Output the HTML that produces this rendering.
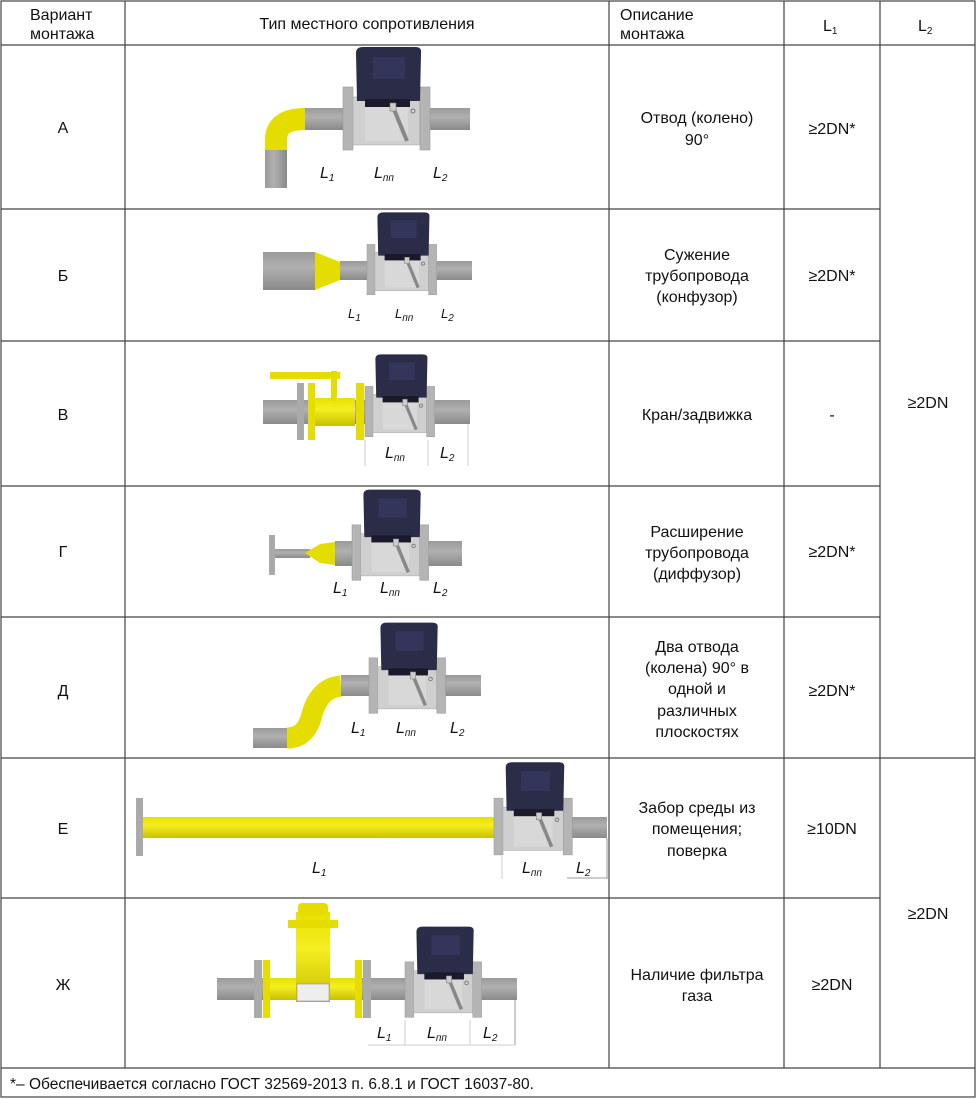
<!DOCTYPE html>
<html><head><meta charset="utf-8"><style>
body{margin:0;background:#fff;}
svg{display:block;font-family:"Liberation Sans",sans-serif;}
.t{font-size:16px;fill:#111;}
.d{font-size:16px;fill:#111;font-style:italic;}
.s{font-size:10px;}
</style></head><body>
<svg width="977" height="1099" viewBox="0 0 977 1099" xmlns="http://www.w3.org/2000/svg">
<defs>
<linearGradient id="gp" x1="0" y1="0" x2="0" y2="1"><stop offset="0" stop-color="#9a9a9a"/><stop offset=".4" stop-color="#b0b0b0"/><stop offset="1" stop-color="#8a8a8a"/></linearGradient>
<linearGradient id="gv" x1="0" y1="0" x2="1" y2="0"><stop offset="0" stop-color="#9a9a9a"/><stop offset=".4" stop-color="#b0b0b0"/><stop offset="1" stop-color="#8a8a8a"/></linearGradient>
<linearGradient id="yp" x1="0" y1="0" x2="0" y2="1"><stop offset="0" stop-color="#e8e000"/><stop offset=".4" stop-color="#f5ee20"/><stop offset="1" stop-color="#c8c000"/></linearGradient>
<g id="m">
<rect x="0" y="-32" width="10" height="63" fill="#b4b4b4" stroke="#999" stroke-width=".6"/>
<rect x="10" y="-22" width="67" height="48" fill="#cfcfcf" stroke="#aaa" stroke-width=".6"/>
<rect x="22" y="-12" width="43" height="34" fill="#d8d8d8"/>
<rect x="77" y="-32" width="10" height="63" fill="#b4b4b4" stroke="#999" stroke-width=".6"/>
<path d="M14 -18 L13 -66 Q13 -72 20 -72 L72 -72 Q79 -72 78 -66 L77 -18 Z" fill="#2a2c48"/>
<rect x="22" y="-20" width="45" height="8" fill="#1a1a2a"/>
<rect x="30" y="-62" width="32" height="22" fill="#33365a"/>
<line x1="50" y1="-12" x2="64" y2="22" stroke="#888" stroke-width="4"/>
<rect x="47" y="-16" width="6" height="8" fill="#ccc" stroke="#777" stroke-width=".6"/>
<circle cx="70" cy="-8" r="2" fill="none" stroke="#777"/>
</g>
</defs>
<g fill="none" stroke="#444" stroke-width="1.2">
<rect x="1" y="1" width="974" height="1096"/>
<line x1="125" y1="1" x2="125" y2="1068"/>
<line x1="609" y1="1" x2="609" y2="1068"/>
<line x1="784" y1="1" x2="784" y2="1068"/>
<line x1="880" y1="1" x2="880" y2="1068"/>
<line x1="1" y1="45" x2="975" y2="45"/>
<line x1="1" y1="209" x2="880" y2="209"/>
<line x1="1" y1="341" x2="880" y2="341"/>
<line x1="1" y1="486" x2="880" y2="486"/>
<line x1="1" y1="617" x2="880" y2="617"/>
<line x1="1" y1="758" x2="975" y2="758"/>
<line x1="1" y1="898" x2="880" y2="898"/>
<line x1="1" y1="1068" x2="975" y2="1068"/>
</g>
<text class="t" x="30" y="20">Вариант</text><text class="t" x="30" y="39">монтажа</text>
<text class="t" x="367" y="29" text-anchor="middle">Тип местного сопротивления</text>
<text class="t" x="620" y="20">Описание</text><text class="t" x="620" y="39">монтажа</text>
<text class="t" x="823" y="31">L<tspan class="s" dy="3">1</tspan></text>
<text class="t" x="918" y="31">L<tspan class="s" dy="3">2</tspan></text>
<g class="t" text-anchor="middle">
<text x="63" y="133">А</text><text x="63" y="281">Б</text><text x="63" y="420">В</text>
<text x="63" y="557">Г</text><text x="63" y="696">Д</text><text x="63" y="834">Е</text><text x="63" y="990">Ж</text>
<text x="697" y="123">Отвод (колено)</text><text x="697" y="145">90°</text>
<text x="697" y="260">Сужение</text><text x="697" y="281">трубопровода</text><text x="697" y="302">(конфузор)</text>
<text x="697" y="420">Кран/задвижка</text>
<text x="697" y="537">Расширение</text><text x="697" y="558">трубопровода</text><text x="697" y="579">(диффузор)</text>
<text x="697" y="652">Два отвода</text><text x="697" y="673">(колена) 90° в</text><text x="697" y="694">одной и</text><text x="697" y="716">различных</text><text x="697" y="737">плоскостях</text>
<text x="697" y="813">Забор среды из</text><text x="697" y="834">помещения;</text><text x="697" y="856">поверка</text>
<text x="697" y="980">Наличие фильтра</text><text x="697" y="1001">газа</text>
<text x="832" y="134">≥2DN*</text><text x="832" y="281">≥2DN*</text><text x="832" y="420">-</text>
<text x="832" y="557">≥2DN*</text><text x="832" y="696">≥2DN*</text><text x="832" y="834">≥10DN</text><text x="832" y="990">≥2DN</text>
<text x="928" y="408">≥2DN</text><text x="928" y="919">≥2DN</text>
</g>
<text class="t" x="10" y="1089" style="font-size:15.5px">*– Обеспечивается согласно ГОСТ 32569-2013 п. 6.8.1 и ГОСТ 16037-80.</text>

<!-- Row A -->
<path d="M276 152 L276 140 Q276 119 305 119" stroke="#e6dd00" stroke-width="22" fill="none"/>
<rect x="265" y="150" width="22" height="38" fill="url(#gv)"/>
<rect x="305" y="108" width="165" height="22" fill="url(#gp)"/>
<use href="#m" transform="translate(343 119)"/>
<text class="d" x="320" y="178">L<tspan class="s" dy="3">1</tspan></text>
<text class="d" x="374" y="178">L<tspan class="s" dy="3">пп</tspan></text>
<text class="d" x="433" y="178">L<tspan class="s" dy="3">2</tspan></text>

<!-- Row Б -->
<rect x="263" y="252" width="52" height="38" fill="url(#gp)"/>
<path d="M315 252 L340 262 L340 280 L315 290 Z" fill="#e6dd00"/>
<rect x="340" y="261" width="132" height="19" fill="url(#gp)"/>
<use href="#m" transform="translate(367 270) scale(.8)"/>
<text class="d" x="348" y="318" style="font-size:13px">L<tspan class="s" dy="3">1</tspan></text>
<text class="d" x="395" y="318" style="font-size:13px">L<tspan class="s" dy="3">пп</tspan></text>
<text class="d" x="441" y="318" style="font-size:13px">L<tspan class="s" dy="3">2</tspan></text>

<!-- Row В -->
<rect x="263" y="400" width="207" height="24" fill="url(#gp)"/>
<rect x="297" y="383" width="7" height="57" fill="#aaa"/>
<rect x="308" y="383" width="7" height="57" fill="#e6dd00"/>
<rect x="315" y="398" width="40" height="28" fill="url(#yp)"/>
<rect x="356" y="383" width="8" height="57" fill="#e6dd00"/>
<rect x="270" y="372" width="70" height="7" fill="#e6dd00"/>
<rect x="331" y="371" width="6" height="30" fill="#e6dd00"/>
<use href="#m" transform="translate(365 412) scale(.8)"/>
<line x1="365" y1="440" x2="365" y2="466" stroke="#ccc"/><line x1="428" y1="440" x2="428" y2="466" stroke="#ccc"/><line x1="468" y1="424" x2="468" y2="466" stroke="#ccc"/>
<text class="d" x="385" y="458">L<tspan class="s" dy="3">пп</tspan></text>
<text class="d" x="440" y="458">L<tspan class="s" dy="3">2</tspan></text>

<!-- Row Г -->
<rect x="269" y="535" width="6" height="40" fill="#aaa"/>
<rect x="275" y="549" width="35" height="9" fill="url(#gp)"/>
<path d="M305 553 L320 544 L335 542 L335 565 L320 563 Z" fill="#e6dd00"/>
<rect x="335" y="541" width="127" height="25" fill="url(#gp)"/>
<use href="#m" transform="translate(352 553) scale(.88)"/>
<text class="d" x="333" y="593">L<tspan class="s" dy="3">1</tspan></text>
<text class="d" x="380" y="593">L<tspan class="s" dy="3">пп</tspan></text>
<text class="d" x="433" y="593">L<tspan class="s" dy="3">2</tspan></text>

<!-- Row Д -->
<rect x="253" y="728" width="36" height="20" fill="url(#gp)"/>
<path d="M287 738 Q305 738 311 718 Q318 688 341 686" stroke="#e6dd00" stroke-width="21" fill="none"/>
<rect x="341" y="675" width="140" height="21" fill="url(#gp)"/>
<use href="#m" transform="translate(369 686) scale(.88)"/>
<text class="d" x="351" y="733">L<tspan class="s" dy="3">1</tspan></text>
<text class="d" x="396" y="733">L<tspan class="s" dy="3">пп</tspan></text>
<text class="d" x="450" y="733">L<tspan class="s" dy="3">2</tspan></text>

<!-- Row Е -->
<rect x="136" y="798" width="7" height="58" fill="#aaa"/>
<rect x="143" y="817" width="352" height="21" fill="url(#yp)"/>
<rect x="570" y="817" width="37" height="21" fill="url(#gp)"/>
<use href="#m" transform="translate(494 827) scale(.9)"/>
<line x1="502" y1="856" x2="502" y2="879" stroke="#ccc"/><line x1="607" y1="838" x2="607" y2="879" stroke="#999"/><line x1="567" y1="878" x2="607" y2="878" stroke="#999"/>
<text class="d" x="312" y="873">L<tspan class="s" dy="3">1</tspan></text>
<text class="d" x="522" y="873">L<tspan class="s" dy="3">пп</tspan></text>
<text class="d" x="576" y="873">L<tspan class="s" dy="3">2</tspan></text>

<!-- Row Ж -->
<rect x="217" y="978" width="300" height="22" fill="url(#gp)"/>
<rect x="254" y="960" width="8" height="58" fill="#aaa"/>
<rect x="263" y="960" width="7" height="58" fill="#e6dd00"/>
<rect x="270" y="978" width="85" height="22" fill="url(#yp)"/>
<rect x="355" y="960" width="7" height="58" fill="#e6dd00"/>
<rect x="363" y="960" width="8" height="58" fill="#aaa"/>
<rect x="296" y="912" width="34" height="90" fill="url(#yp)"/>
<rect x="288" y="920" width="50" height="8" fill="#e6dd00"/>
<rect x="298" y="903" width="30" height="12" rx="4" fill="#e6dd00"/>
<rect x="297" y="984" width="32" height="17" fill="#eee" stroke="#888" stroke-width=".5"/>
<use href="#m" transform="translate(405 990) scale(.88)"/>
<line x1="405" y1="1020" x2="405" y2="1045" stroke="#ccc"/><line x1="470" y1="1020" x2="470" y2="1045" stroke="#ccc"/><line x1="515" y1="1000" x2="515" y2="1045" stroke="#999"/>
<line x1="368" y1="1045" x2="515" y2="1045" stroke="#ccc"/>
<text class="d" x="377" y="1038">L<tspan class="s" dy="3">1</tspan></text>
<text class="d" x="427" y="1038">L<tspan class="s" dy="3">пп</tspan></text>
<text class="d" x="483" y="1038">L<tspan class="s" dy="3">2</tspan></text>
</svg>
</body></html>
